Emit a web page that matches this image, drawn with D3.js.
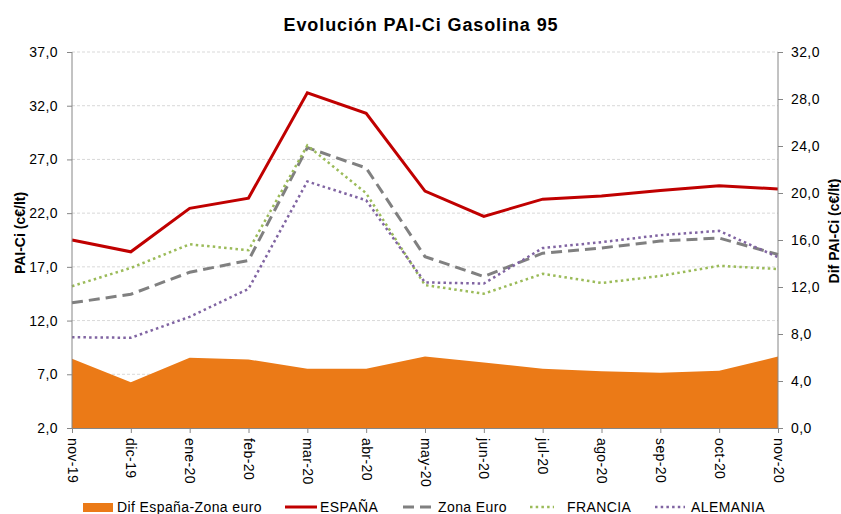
<!DOCTYPE html>
<html>
<head>
<meta charset="utf-8">
<script src="https://cdn.jsdelivr.net/npm/d3@7"></script>
<style>
  body { margin: 0; background: #fff; }
  svg text { font-family: "Liberation Sans", Arial, sans-serif; fill: #000; }
</style>
</head>
<body>
<div id="chart"></div>
<script>
// data
var months = ["nov-19","dic-19","ene-20","feb-20","mar-20","abr-20","may-20","jun-20","jul-20","ago-20","sep-20","oct-20","nov-20"];
var espana   = [19.5, 18.4, 22.45, 23.4, 33.2, 31.3, 24.05, 21.7, 23.3, 23.6, 24.1, 24.55, 24.25];
var zonaEuro = [13.65, 14.45, 16.5, 17.6, 28.1, 26.2, 17.95, 16.1, 18.27, 18.76, 19.4, 19.68, 18.15];
var francia  = [15.2, 16.9, 19.1, 18.55, 28.3, 23.85, 15.3, 14.5, 16.35, 15.5, 16.15, 17.1, 16.8];
var alemania = [10.45, 10.4, 12.35, 14.95, 24.95, 23.2, 15.55, 15.45, 18.75, 19.3, 19.95, 20.35, 17.9];
var dif      = [5.9, 3.9, 5.97, 5.83, 5.05, 5.05, 6.08, 5.57, 5.04, 4.84, 4.7, 4.87, 6.08];

var leftTicks = [2, 7, 12, 17, 22, 27, 32, 37];
var rightTicks = [0, 4, 8, 12, 16, 20, 24, 28, 32];

var width = 841, height = 514;
var x0 = 72, x1 = 778, yTop = 52, yBot = 428;
var fmt = function(d){ return d.toFixed(1).replace(".", ","); };
var fs = "14px", ls = "0.4px";

var svg = d3.select("#chart").append("svg")
    .attr("width", width).attr("height", height);

var x = d3.scalePoint().domain(months).range([x0, x1]);
var yL = d3.scaleLinear().domain([2, 37]).range([yBot, yTop]);
var yR = d3.scaleLinear().domain([0, 32]).range([yBot, yTop]);

// title
svg.append("text")
    .attr("x", 421).attr("y", 31)
    .attr("text-anchor", "middle")
    .style("font-size", "18px").style("font-weight", "bold")
    .style("letter-spacing", "0.9px")
    .text("Evolución PAI-Ci Gasolina 95");

// grid
svg.append("g").selectAll("line")
  .data(leftTicks.slice(1))
  .enter().append("line")
    .attr("x1", x0).attr("x2", x1)
    .attr("y1", function(d){ return yL(d); })
    .attr("y2", function(d){ return yL(d); })
    .style("stroke", "#d9d9d9")
    .style("stroke-dasharray", "3,2");

// area (right axis)
var area = d3.area()
    .x(function(d, i){ return x(months[i]); })
    .y0(yR(0))
    .y1(function(d){ return yR(d); });
svg.append("path")
    .datum(dif)
    .attr("d", area)
    .attr("fill", "#EB7A17");

// lines
var line = d3.line()
    .x(function(d, i){ return x(months[i]); })
    .y(function(d){ return yL(d); });

var series = [
  { data: zonaEuro, color: "#808080", width: 3, dash: "11,6" },
  { data: francia,  color: "#9BBB59", width: 2.5, dash: "2.5,3.2" },
  { data: alemania, color: "#8064A2", width: 2.5, dash: "2.5,3.2" },
  { data: espana,   color: "#C00000", width: 3, dash: null }
];
series.forEach(function(s){
  svg.append("path")
    .datum(s.data)
    .attr("d", line)
    .attr("fill", "none")
    .style("stroke", s.color)
    .style("stroke-width", s.width)
    .style("stroke-dasharray", s.dash);
});

// axes
var axisColor = "#868686";
var gL = svg.append("g").attr("transform", "translate(" + x0 + ",0)")
    .call(d3.axisLeft(yL).tickValues(leftTicks).tickFormat(fmt).tickSize(5).tickPadding(9));
var gR = svg.append("g").attr("transform", "translate(" + x1 + ",0)")
    .call(d3.axisRight(yR).tickValues(rightTicks).tickFormat(fmt).tickSize(5).tickPadding(8));
var gX = svg.append("g").attr("transform", "translate(0," + yBot + ")")
    .call(d3.axisBottom(x).tickSize(5).tickSizeOuter(0));

[gL, gR, gX].forEach(function(g){
  g.select(".domain").style("stroke", axisColor).attr("d", g === gX
      ? "M" + x0 + ",0.5H" + x1
      : "M0," + yTop + "V" + yBot);
  g.selectAll(".tick line").style("stroke", axisColor);
  g.selectAll("text").style("font-size", fs).style("letter-spacing", ls).style("fill", "#000")
    .style("font-family", "'Liberation Sans', Arial, sans-serif");
});

gX.selectAll(".tick text")
    .attr("transform", "rotate(90)")
    .attr("x", 10).attr("y", 0).attr("dy", "0.35em")
    .style("text-anchor", "start");

// axis titles
svg.append("text")
    .attr("transform", "translate(25,233) rotate(-90)")
    .attr("text-anchor", "middle")
    .style("font-size", fs).style("font-weight", "bold")
    .text("PAI-Ci (c€/lt)");
svg.append("text")
    .attr("transform", "translate(839,231) rotate(-90)")
    .attr("text-anchor", "middle")
    .style("font-size", fs).style("font-weight", "bold")
    .text("Dif PAI-Ci (c€/lt)");

// legend
var lg = svg.append("g").attr("transform", "translate(0,507)");
lg.append("rect").attr("x", 83).attr("y", -4).attr("width", 30).attr("height", 9).attr("fill", "#EB7A17");
lg.append("text").attr("x", 117).attr("y", 5).style("font-size", fs).style("letter-spacing", ls)
    .text("Dif España-Zona euro");

var legItems = [
  { x: 285, len: 32, tx: 320, label: "ESPAÑA", s: series[3] },
  { x: 403, len: 31, tx: 438, label: "Zona Euro", s: series[0] },
  { x: 530, len: 24, tx: 567, label: "FRANCIA", s: series[1] },
  { x: 655, len: 30, tx: 691, label: "ALEMANIA", s: series[2] }
];
legItems.forEach(function(it){
  lg.append("line")
    .attr("x1", it.x).attr("x2", it.x + it.len).attr("y1", 0).attr("y2", 0)
    .style("stroke", it.s.color)
    .style("stroke-width", it.s.width)
    .style("stroke-dasharray", it.s.dash);
  lg.append("text").attr("x", it.tx).attr("y", 5).style("font-size", fs).style("letter-spacing", ls)
    .text(it.label);
});
</script>
</body>
</html>
